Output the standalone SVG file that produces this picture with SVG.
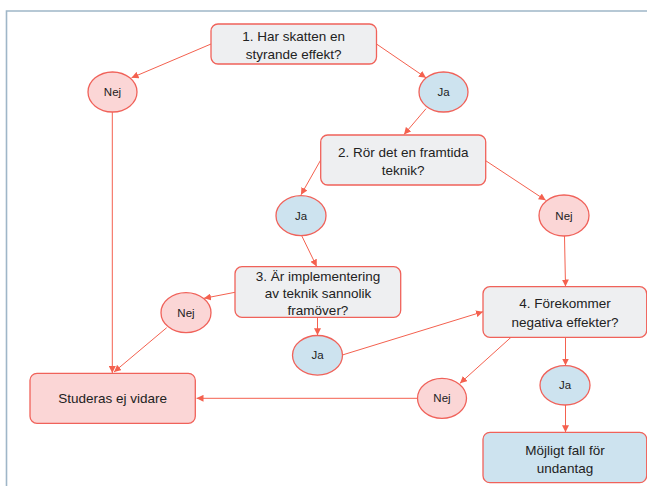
<svg xmlns="http://www.w3.org/2000/svg" width="647" height="486" viewBox="0 0 647 486">
<defs>
<style>
.q{fill:#eeeff1;stroke:#f0625a;stroke-width:1.3}
.r{fill:#fbd6d6;stroke:#f0625a;stroke-width:1.3}
.b{fill:#cde3ef;stroke:#f0625a;stroke-width:1.3}
.t{font-family:"Liberation Sans",Arial,sans-serif;font-size:13.5px;fill:#222;text-anchor:middle}
.s{font-family:"Liberation Sans",Arial,sans-serif;font-size:11.5px;fill:#222;text-anchor:middle}
.c{fill:none;stroke:#f4614f;stroke-width:1}
</style>
<marker id="ah" viewBox="0 0 10 10" refX="10" refY="5" markerWidth="7" markerHeight="7" markerUnits="userSpaceOnUse" orient="auto">
<path d="M0,0 L10,5 L0,10 z" fill="#f4614f"/>
</marker>
</defs>
<rect x="0" y="0" width="647" height="486" fill="#ffffff"/>
<path d="M647,11 H6.5 V486" fill="none" stroke="#9fb6c8" stroke-width="1.6"/>
<g id="connectors">
<line class="c" x1="211" y1="44" x2="131.5" y2="77.8" marker-end="url(#ah)"/>
<line class="c" x1="376.5" y1="44" x2="426" y2="77.8" marker-end="url(#ah)"/>
<line class="c" x1="112.3" y1="112" x2="112.3" y2="373" marker-end="url(#ah)"/>
<line class="c" x1="426" y1="108.7" x2="404" y2="134.5" marker-end="url(#ah)"/>
<line class="c" x1="320.7" y1="160" x2="301" y2="194.8" marker-end="url(#ah)"/>
<line class="c" x1="485.7" y1="160.7" x2="545.7" y2="200.3" marker-end="url(#ah)"/>
<line class="c" x1="301.7" y1="235.7" x2="316.7" y2="266.5" marker-end="url(#ah)"/>
<line class="c" x1="564.5" y1="236" x2="565.5" y2="286.5" marker-end="url(#ah)"/>
<line class="c" x1="235" y1="292.3" x2="204" y2="298.3" marker-end="url(#ah)"/>
<line class="c" x1="317.5" y1="317.3" x2="317.5" y2="335.3" marker-end="url(#ah)"/>
<line class="c" x1="166.7" y1="327.7" x2="114" y2="372" marker-end="url(#ah)"/>
<line class="c" x1="342.3" y1="355" x2="483" y2="311.7" marker-end="url(#ah)"/>
<line class="c" x1="511" y1="337.3" x2="460" y2="383.3" marker-end="url(#ah)"/>
<line class="c" x1="565.5" y1="337.3" x2="565.5" y2="365.5" marker-end="url(#ah)"/>
<line class="c" x1="565.5" y1="405" x2="565.5" y2="432.3" marker-end="url(#ah)"/>
<line class="c" x1="417.7" y1="398.3" x2="196.5" y2="398.3" marker-end="url(#ah)"/>
</g>
<g id="q1">
<rect class="q" x="211" y="24" width="165.5" height="40" rx="7"/>
<text class="t" x="293.7" y="40.5">1. Har skatten en</text>
<text class="t" x="293.7" y="58.5">styrande effekt?</text>
</g>
<g id="nej1">
<ellipse class="r" cx="112.5" cy="92" rx="24.5" ry="20"/>
<text class="s" x="112.5" y="96">Nej</text>
</g>
<g id="ja1">
<ellipse class="b" cx="443.5" cy="92" rx="24.5" ry="20"/>
<text class="s" x="443.5" y="96">Ja</text>
</g>
<g id="q2">
<rect class="q" x="320.7" y="135" width="165" height="50" rx="7"/>
<text class="t" x="403.2" y="157">2. Rör det en framtida</text>
<text class="t" x="403.2" y="175">teknik?</text>
</g>
<g id="ja2">
<ellipse class="b" cx="301" cy="215.7" rx="25" ry="20"/>
<text class="s" x="301" y="219.7">Ja</text>
</g>
<g id="nej2">
<ellipse class="r" cx="564" cy="215.5" rx="25" ry="20.5"/>
<text class="s" x="564" y="219.5">Nej</text>
</g>
<g id="q3">
<rect class="q" x="235" y="266.7" width="165.7" height="50.6" rx="7"/>
<text class="t" x="318" y="280.5">3. Är implementering</text>
<text class="t" x="318" y="297.5">av teknik sannolik</text>
<text class="t" x="318" y="314.5">framöver?</text>
</g>
<g id="nej3">
<ellipse class="r" cx="186" cy="312.7" rx="25" ry="20"/>
<text class="s" x="186" y="316.7">Nej</text>
</g>
<g id="ja3">
<ellipse class="b" cx="317.5" cy="355.3" rx="25" ry="19.8"/>
<text class="s" x="317.5" y="359.3">Ja</text>
</g>
<g id="q4">
<rect class="q" x="483" y="286.7" width="163.7" height="50.6" rx="7"/>
<text class="t" x="565" y="308">4. Förekommer</text>
<text class="t" x="565" y="326.5">negativa effekter?</text>
</g>
<g id="nej4">
<ellipse class="r" cx="442" cy="398.3" rx="24.5" ry="20"/>
<text class="s" x="442" y="402.3">Nej</text>
</g>
<g id="ja4">
<ellipse class="b" cx="565" cy="385.3" rx="25" ry="19.7"/>
<text class="s" x="565" y="389.3">Ja</text>
</g>
<g id="studeras">
<rect class="r" x="30" y="373.3" width="165.3" height="50" rx="7"/>
<text class="t" x="112.7" y="403">Studeras ej vidare</text>
</g>
<g id="mojligt">
<rect class="b" x="483" y="432.3" width="163.7" height="50.4" rx="7"/>
<text class="t" x="565" y="454.8">Möjligt fall för</text>
<text class="t" x="565" y="473">undantag</text>
</g>
</svg>
